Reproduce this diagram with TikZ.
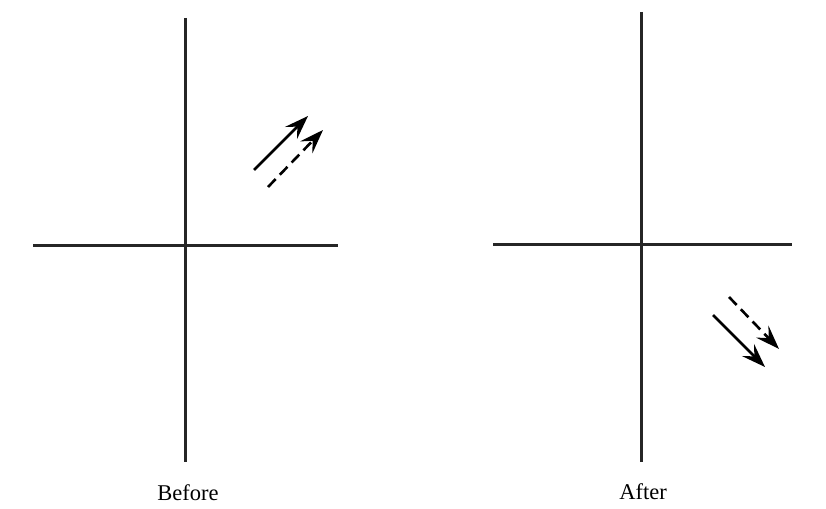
\documentclass[tikz,border=0pt]{standalone}
\usepackage{fontspec}
\setmainfont{Liberation Serif}
\usetikzlibrary{arrows.meta}
\begin{document}
\begin{tikzpicture}[x=1pt,y=-1pt,
  axis/.style={line width=3pt,black!85},
  vec/.style={line width=2.6pt,-{Stealth[length=24pt,width=17pt,inset=9pt]}},
  dvec/.style={vec,dash pattern=on 11pt off 6pt},
  lbl/.style={font=\fontsize{22.5}{26}\selectfont}]
\useasboundingbox (0,0) rectangle (826,508);
% left axes
\coordinate (lt) at (185,18); \coordinate (lb) at (185,462);
\coordinate (ll) at (33,245); \coordinate (lr) at (338,245);
\draw[axis] (lt) -- (lb);
\draw[axis] (ll) -- (lr);
% right axes
\coordinate (rt) at (641,12); \coordinate (rb) at (641,462);
\coordinate (rl) at (493,244); \coordinate (rr) at (792,244);
\draw[axis] (rt) -- (rb);
\draw[axis] (rl) -- (rr);
% before arrows
\coordinate (b1s) at (254,170); \coordinate (b1e) at (308,116);
\coordinate (b2s) at (268,187); \coordinate (b2e) at (323,130);
\draw[vec] (b1s) -- (b1e);
\draw[dvec] (b2s) -- (b2e);
% after arrows
\coordinate (a1s) at (713,315); \coordinate (a1e) at (765,367);
\coordinate (a2s) at (729,297); \coordinate (a2e) at (779,349);
\draw[vec] (a1s) -- (a1e);
\draw[dvec] (a2s) -- (a2e);
% labels
\node[lbl] (before) at (188,493) {Before};
\node[lbl] (after) at (643,492) {After};
\end{tikzpicture}
\end{document}
